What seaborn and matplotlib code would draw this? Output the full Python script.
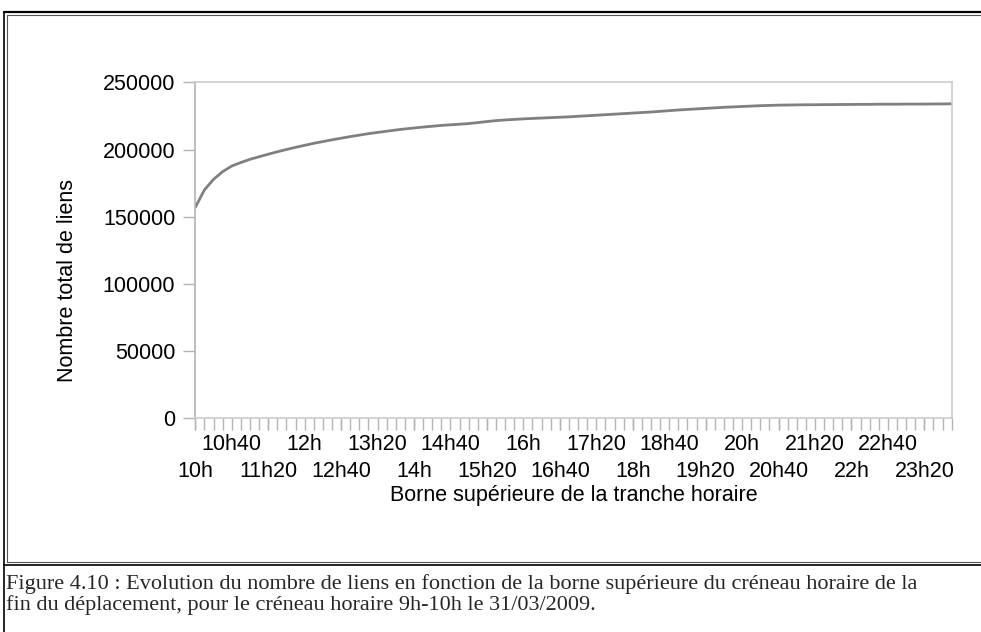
"""Nombre total de liens selon la borne supérieure de la tranche horaire (31/03/2009)."""

import matplotlib
matplotlib.use("Agg")
import matplotlib.pyplot as plt
from matplotlib.lines import Line2D
import pandas as pd
import seaborn as sns

# 10 min steps from 10h to 23h50
creneaux = [f"{h}h" if m == 0 else f"{h}h{m}"
            for h in range(10, 24) for m in (0, 10, 20, 30, 40, 50)]

nb_liens = [
    157000, 169900, 177800, 183500, 187700, 190300, 192700, 194600, 196500, 198300,
    200000, 201600, 203100, 204600, 205900, 207200, 208400, 209600, 210700, 211800,
    212700, 213600, 214500, 215300, 216000, 216700, 217300, 217900, 218400, 218800,
    219300, 220000, 220800, 221500, 222000, 222400, 222800, 223100, 223400, 223700,
    224000, 224300, 224700, 225100, 225500, 225900, 226300, 226700, 227100, 227500,
    227900, 228400, 228900, 229400, 229800, 230200, 230600, 231000, 231400, 231700,
    232000, 232300, 232600, 232800, 233000, 233100, 233200, 233300, 233300, 233400,
    233400, 233500, 233500, 233600, 233600, 233700, 233700, 233700, 233800, 233800,
    233800, 233900, 233900, 234000,
]

y_ticks = [0, 50000, 100000, 150000, 200000, 250000]

caption = ("Figure 4.10 : Evolution du nombre de liens en fonction de la borne "
           "supérieure du créneau horaire de la\n"
           "fin du déplacement, pour le créneau horaire 9h-10h le 31/03/2009.")

df = pd.DataFrame({"pos": range(len(creneaux)), "creneau": creneaux, "liens": nb_liens})

sns.set_theme(style="white")
plt.rcParams["font.family"] = ["Liberation Sans", "DejaVu Sans"]

W, H = 981, 632
fig = plt.figure(figsize=(W / 100, H / 100), dpi=100)
x0, x1, ytop, ybot = 195.3, 951.7, 82.3, 418.3
ax = fig.add_axes([x0 / W, 1 - ybot / H, (x1 - x0) / W, (ybot - ytop) / H])

sns.lineplot(data=df, x="pos", y="liens", ax=ax, color="#808080", linewidth=2.0)

ax.set_xlim(0, len(creneaux) - 1)
ax.set_ylim(0, 250000)
ax.set_yticks(y_ticks)
ax.set_yticklabels([str(v) for v in y_ticks])

# every slot gets a tick; labels every 40 min, staggered on two rows
upper = [c if i % 8 == 4 else "" for i, c in enumerate(creneaux)]
lower_pos = [i for i in range(len(creneaux)) if i % 8 == 0]
ax.set_xticks(df["pos"])
ax.set_xticklabels(upper)
ax.xaxis.remove_overlapping_locs = False
ax.set_xticks(lower_pos, minor=True)
ax.set_xticklabels([creneaux[i] for i in lower_pos], minor=True)

ax.tick_params(axis="both", which="both", direction="out", length=8.6, width=1,
               color="#b3b3b3", labelsize=15.5, labelcolor="black",
               bottom=True, left=True)
ax.tick_params(axis="x", which="major", pad=3)
ax.tick_params(axis="x", which="minor", pad=22)
ax.tick_params(axis="y", pad=5.8)

for side in ("top", "right", "bottom"):
    ax.spines[side].set_color("#cccccc")
ax.spines["left"].set_color("#b3b3b3")
for s in ax.spines.values():
    s.set_linewidth(1.2)

ax.set_xlabel("Borne supérieure de la tranche horaire", fontsize=15.5, color="black")
ax.set_ylabel("Nombre total de liens", fontsize=15.5, color="black")
ax.xaxis.set_label_coords(0.5, -0.198)
ax.yaxis.set_label_coords(-0.155, 0.41)

# document frame (double border) around the chart
def fx(px):
    return px / W

def fy(py):
    return 1 - py / H

for (xa, ya, xb, yb, lw, col) in [
    (4, 12, W, 12, 1.6, "black"), (4, 12, 4, H, 1.2, "black"),
    (4, 565, W, 565, 1.2, "black"),
    (7, 15, W, 15, 0.8, "#555555"), (7, 15, 7, 562, 0.8, "#555555"),
    (7, 562, W, 562, 0.8, "#555555"),
]:
    fig.add_artist(Line2D([fx(xa), fx(xb)], [fy(ya), fy(yb)], color=col, linewidth=lw))

fig.text(fx(6), fy(574), caption, ha="left", va="top", fontsize=16,
         family=["Liberation Serif", "DejaVu Serif"], linespacing=1.08)

fig.savefig("out.png", dpi=100)
